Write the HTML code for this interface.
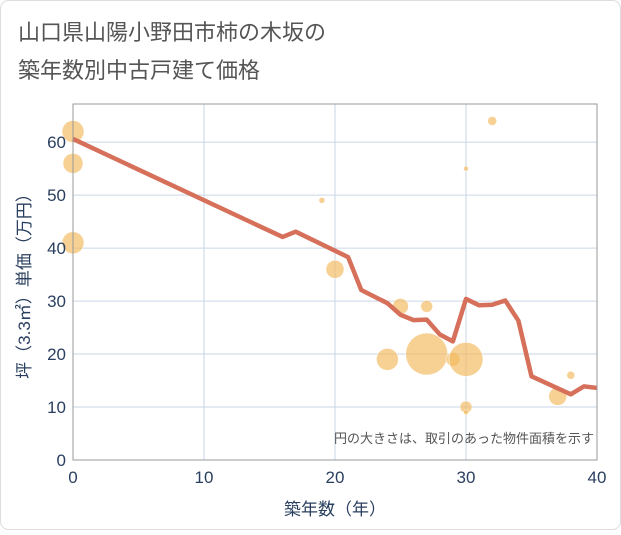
<!DOCTYPE html>
<html><head><meta charset="utf-8"><style>
body{margin:0;background:#fff;}
svg text{font-family:"Liberation Sans","Noto Sans CJK JP",sans-serif;}
</style></head><body>
<svg width="621" height="530" xmlns="http://www.w3.org/2000/svg">
<rect x="0.5" y="0.5" width="620" height="529" rx="8" fill="#fff" stroke="#ddd"/>
<text x="18" y="40" font-size="22" fill="#555">山口県山陽小野田市柿の木坂の</text>
<text x="18" y="78" font-size="22" fill="#555">築年数別中古戸建て価格</text>
<g id="grid"></g>
<g id="bubbles"></g>
<g id="line"></g>
<rect x="73" y="104" width="524" height="356" fill="none" stroke="#999"/>
<g id="ticks"></g>
<text x="594" y="443" font-size="13" fill="#555" text-anchor="end">円の大きさは、取引のあった物件面積を示す</text>
<text x="335" y="515" font-size="17" fill="#2a3f5f" text-anchor="middle">築年数（年）</text>
<text transform="translate(30,282) rotate(-90)" font-size="17" fill="#2a3f5f" text-anchor="middle">坪（3.3㎡）単価（万円）</text>
</svg>
<script>
const xTicks=[0,10,20,30,40];
const yTicks=[0,10,20,30,40,50,60];
const lineX=[0,16,17,21,22,24,25,26,27,28,29,30,31,32,33,34,35,38,39,40];
const lineY=[60.6,42.1,43.1,38.3,32.1,29.6,27.4,26.4,26.5,23.7,22.4,30.4,29.2,29.3,30.1,26.3,15.8,12.4,13.9,13.6];
const bubX=[0,0,0,19,20,24,25,27,27,29,30,30,30,30,32,37,38];
const bubY=[62,56,41,49,36,19,29,29,20,19,19,10,9,55,64,12,16];
const bubR=[11,10,11,3,9,11,8,6,21,7,17,6,2.5,2.5,4.5,9,4];
const NS='http://www.w3.org/2000/svg';
const X=v=>73+v*524/40, Y=v=>460-v*356/67.2;
function mk(t,a,p){const e=document.createElementNS(NS,t);for(const k in a)e.setAttribute(k,a[k]);document.getElementById(p).appendChild(e);return e;}
xTicks.forEach(t=>{
 const g=mk('line',{x1:X(t),x2:X(t),y1:104,y2:460,stroke:'#c9d6e6','stroke-width':1},'grid');
 
 
 const l=mk('text',{x:X(t),y:483,'font-size':17,fill:'#2a3f5f','text-anchor':'middle'},'ticks');
 l.textContent=t;
 
 
});
yTicks.forEach(t=>{
 const g=mk('line',{x1:73,x2:597,y1:Y(t),y2:Y(t),stroke:'#c9d6e6','stroke-width':1},'grid');
 
 
 const l=mk('text',{x:66,y:Y(t)+6,'font-size':17,fill:'#2a3f5f','text-anchor':'end'},'ticks');
 l.textContent=t;
 
 
});
bubX.forEach((x,i)=>{
 const c=mk('circle',{cx:X(x),cy:Y(bubY[i]),r:bubR[i],fill:'#f2b95a','fill-opacity':0.65,stroke:'#fff','stroke-width':0.5},'bubbles');
 
 
});
const p=mk('polyline',{points:lineX.map((x,i)=>X(x)+','+Y(lineY[i])).join(' '),fill:'none',stroke:'#d6705a','stroke-width':4.5,'stroke-linejoin':'round'},'line');


</script>
</body></html>
